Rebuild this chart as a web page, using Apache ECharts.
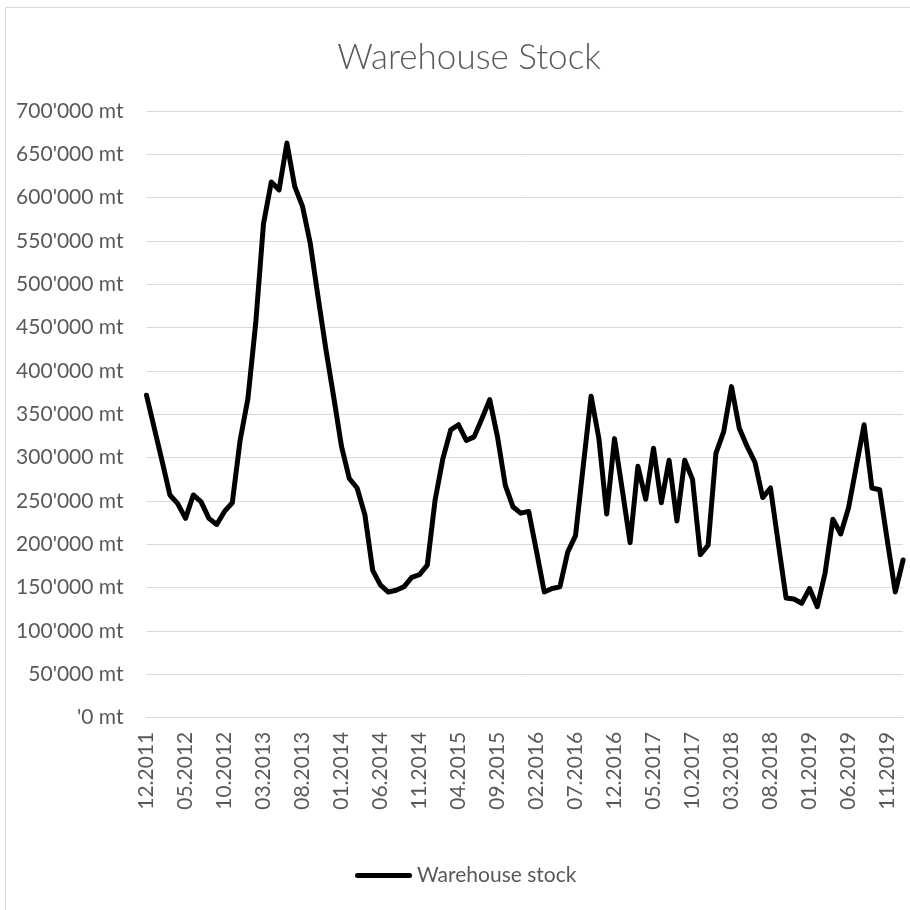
<!DOCTYPE html>
<html>
<head>
<meta charset="utf-8">
<script src="https://cdn.jsdelivr.net/npm/echarts@6/dist/echarts.min.js"></script>
<style>
  html, body { margin: 0; padding: 0; background: #fff; }
  #chart { width: 910px; height: 910px; }
</style>
</head>
<body>
<div id="chart"></div>
<script>
// months 12.2011 .. 01.2020
const months = [
  "12.2011",
  "01.2012","02.2012","03.2012","04.2012","05.2012","06.2012","07.2012","08.2012","09.2012","10.2012","11.2012","12.2012",
  "01.2013","02.2013","03.2013","04.2013","05.2013","06.2013","07.2013","08.2013","09.2013","10.2013","11.2013","12.2013",
  "01.2014","02.2014","03.2014","04.2014","05.2014","06.2014","07.2014","08.2014","09.2014","10.2014","11.2014","12.2014",
  "01.2015","02.2015","03.2015","04.2015","05.2015","06.2015","07.2015","08.2015","09.2015","10.2015","11.2015","12.2015",
  "01.2016","02.2016","03.2016","04.2016","05.2016","06.2016","07.2016","08.2016","09.2016","10.2016","11.2016","12.2016",
  "01.2017","02.2017","03.2017","04.2017","05.2017","06.2017","07.2017","08.2017","09.2017","10.2017","11.2017","12.2017",
  "01.2018","02.2018","03.2018","04.2018","05.2018","06.2018","07.2018","08.2018","09.2018","10.2018","11.2018","12.2018",
  "01.2019","02.2019","03.2019","04.2019","05.2019","06.2019","07.2019","08.2019","09.2019","10.2019","11.2019","12.2019",
  "01.2020"
];

// warehouse stock in mt
const stock = [
  372000,
  334000, 296000, 257000, 247000, 230000, 257000, 249000, 230000, 223000, 238000, 248000, 320000,
  368000, 455000, 570000, 618000, 609000, 663000, 613000, 590000, 547000, 485000, 425000, 370000,
  313000, 276000, 265000, 234000, 170000, 153000, 145000, 147000, 151000, 162000, 165000, 176000,
  251000, 299000, 332000, 338000, 320000, 324000, 345000, 367000, 324000, 268000, 243000, 236000,
  238000, 192000, 145000, 149000, 151000, 191000, 210000, 291000, 371000, 322000, 235000, 322000,
  263000, 202000, 290000, 252000, 311000, 248000, 297000, 227000, 297000, 275000, 188000, 199000,
  305000, 330000, 382000, 334000, 313000, 295000, 254000, 265000, 201000, 138000, 137000, 132000,
  149000, 128000, 167000, 229000, 212000, 242000, 290000, 338000, 265000, 263000, 203000, 145000,
  182000
];

const yMax = 700000;
const yStep = 50000;

const FONT = "Lato, 'Liberation Sans', sans-serif";
const GREY = "#595959";
const LINE = "#d9d9d9";

const fmtMt = (v) => {
  if (v === 0) return "'0 mt";
  return String(v).replace(/\B(?=(\d{3})+(?!\d))/g, "'") + " mt";
};

const myChart = echarts.init(document.getElementById("chart"), null, { renderer: "canvas" });

const options = {
  animation: false,
  backgroundColor: "#fff",
  title: {
    text: "Warehouse Stock",
    left: 464,
    top: 35,
    textAlign: "center",
    textStyle: { fontFamily: FONT, fontSize: 35, fontWeight: 300, color: GREY }
  },
  graphic: [
    {
      type: "rect",
      shape: { x: 5.5, y: 7.5, width: 1000, height: 1000 },
      style: { fill: "none", stroke: LINE, lineWidth: 1 },
      silent: true
    }
  ],
  legend: {
    data: ["Warehouse stock"],
    left: 355,
    top: 865,
    padding: 0,
    itemWidth: 57,
    itemHeight: 5,
    icon: "path://M2.5,0 L54.5,0 A2.5,2.5 0 0 1 54.5,5 L2.5,5 A2.5,2.5 0 0 1 2.5,0 Z",
    textStyle: { fontFamily: FONT, fontSize: 21, color: GREY }
  },
  grid: {
    left: 146.5,
    right: 6.9,
    top: 111,
    bottom: 192.3,
    containLabel: false
  },
  xAxis: {
    type: "category",
    data: months,
    boundaryGap: false,
    axisLine: { show: true, lineStyle: { color: LINE, width: 1 } },
    axisTick: { show: false },
    splitLine: { show: false },
    axisLabel: {
      interval: 4,
      rotate: 90,
      margin: 14,
      fontFamily: FONT,
      fontSize: 21,
      color: GREY
    }
  },
  yAxis: {
    type: "value",
    min: 0,
    max: yMax,
    interval: yStep,
    axisLine: { show: false },
    axisTick: { show: false },
    splitLine: { show: true, lineStyle: { color: LINE, width: 1 } },
    axisLabel: {
      margin: 23,
      fontFamily: FONT,
      fontSize: 21,
      color: GREY,
      formatter: fmtMt
    }
  },
  series: [
    {
      name: "Warehouse stock",
      type: "line",
      data: stock,
      symbol: "none",
      itemStyle: { color: "#000" },
      lineStyle: { color: "#000", width: 5, join: "round", cap: "round" }
    }
  ]
};

myChart.setOption(options);
</script>
</body>
</html>
